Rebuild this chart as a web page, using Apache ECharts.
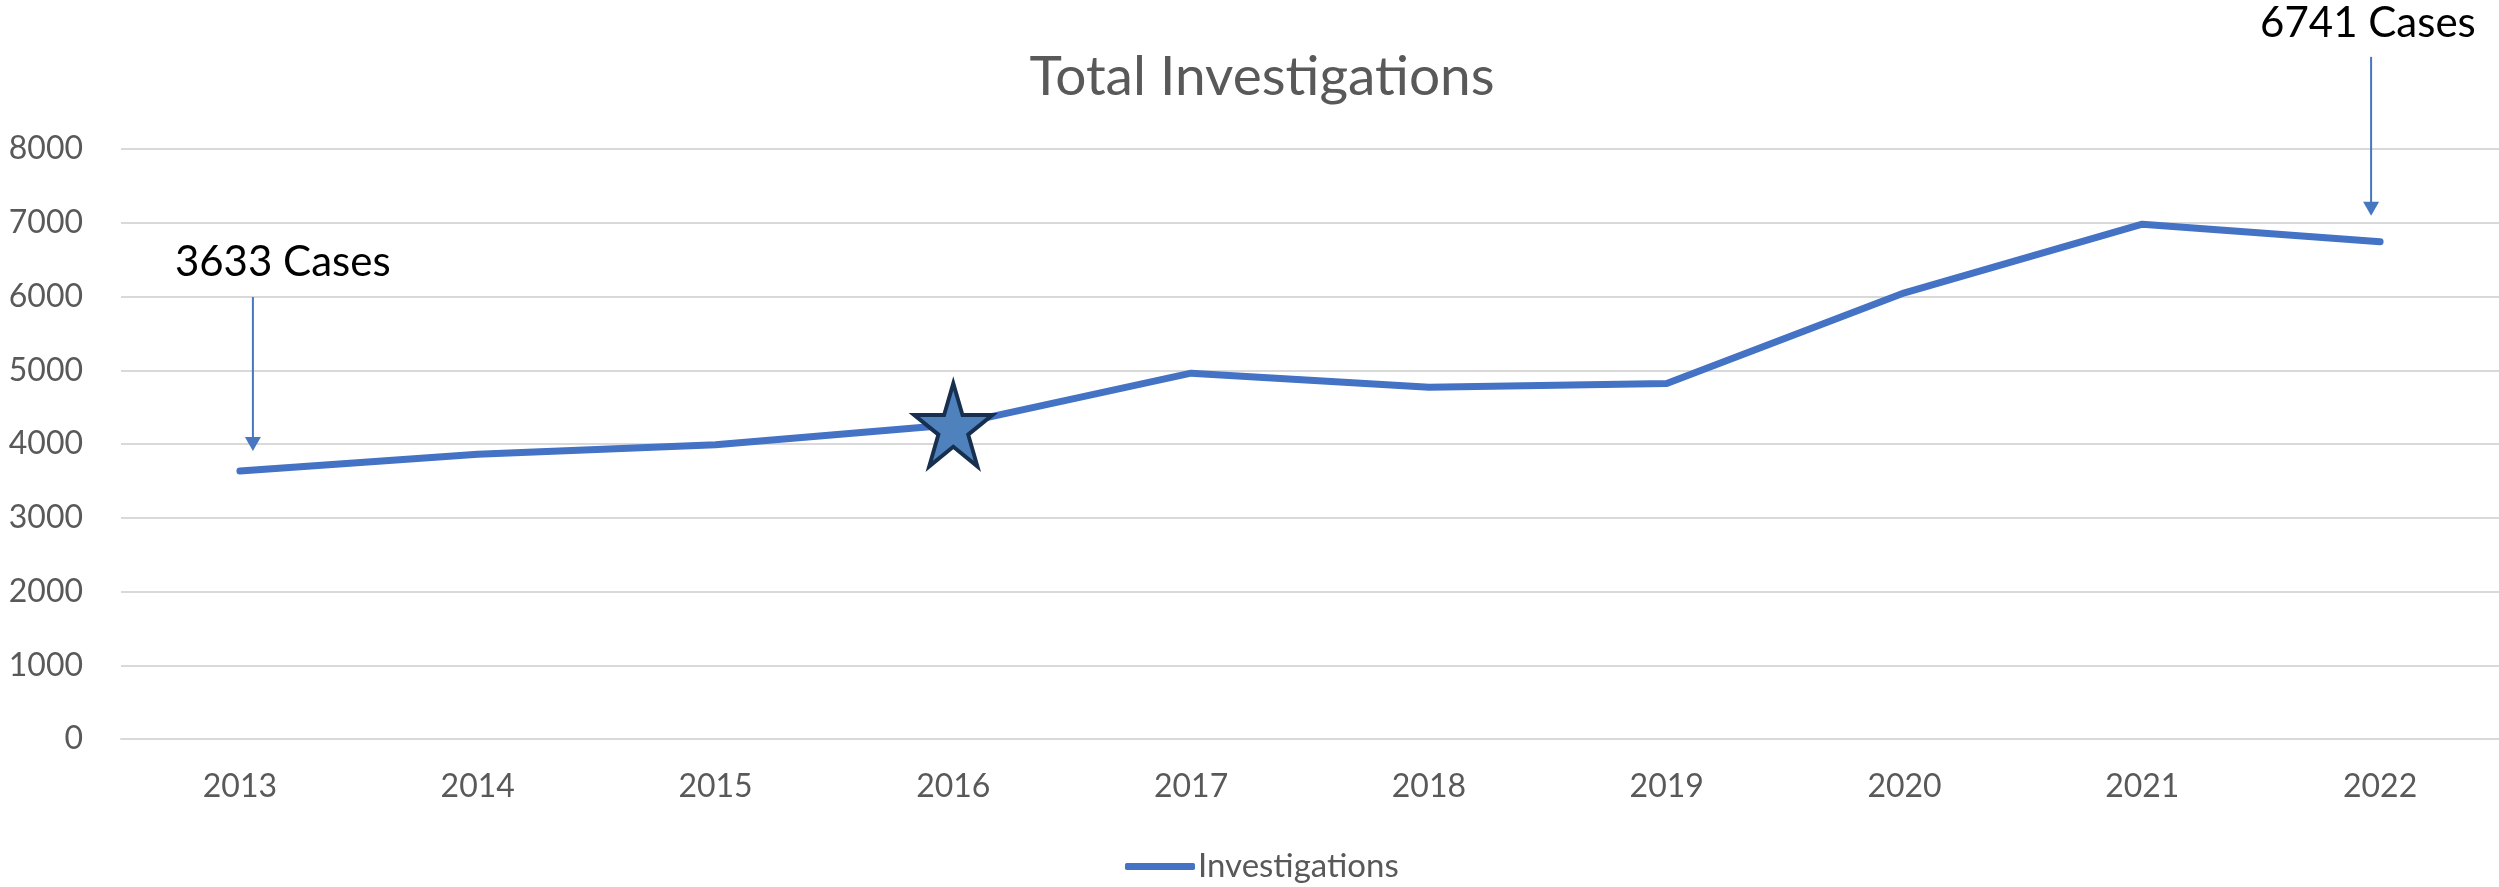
<!DOCTYPE html>
<html>
<head>
<meta charset="utf-8">
<title>Total Investigations</title>
<script src="https://cdn.jsdelivr.net/npm/echarts@6/dist/echarts.min.js"></script>
<style>
  html, body { margin: 0; padding: 0; background: #fff; }
  #chart { width: 2499px; height: 887px; }
</style>
</head>
<body>
<div id="chart"></div>
<script>
const years = ['2013', '2014', '2015', '2016', '2017', '2018', '2019', '2020', '2021', '2022']
const investigations = [3633, 3860, 3990, 4260, 4960, 4770, 4820, 6050, 6980, 6741]
const yTicks = [0, 1000, 2000, 3000, 4000, 5000, 6000, 7000, 8000]
// callouts: which year gets an arrow + "N Cases" text
const callouts = ['2013', '2022']
const starYear = '2016'

const FONT = 'Lato, "Open Sans", sans-serif'
const GREY = '#595959'
const BLUE = '#4472C4'

// 5 point star, 100x100 box
const STAR = 'path://M50,0 L61.23,34.55 L97.55,34.55 L68.17,55.9 L79.39,90.45 L50,69.1 L20.61,90.45 L31.83,55.9 L2.45,34.55 L38.77,34.55 Z'

const chart = echarts.init(document.getElementById('chart'))

chart.setOption({
  animation: false,
  backgroundColor: '#fff',
  title: {
    text: 'Total Investigations',
    left: 1257,
    top: 45,
    textAlign: 'center',
    textStyle: { fontFamily: FONT, fontSize: 55, fontWeight: 'normal', color: GREY }
  },
  legend: {
    data: ['Investigations'],
    orient: 'horizontal',
    left: 1120,
    top: 845,
    icon: 'roundRect',
    itemWidth: 70,
    itemHeight: 7,
    itemGap: 4,
    itemStyle: { color: BLUE },
    textStyle: { fontFamily: FONT, fontSize: 33, color: GREY, padding: [0, 0, 0, -2] }
  },
  grid: { left: 121, right: 0, top: 149, bottom: 148 },
  xAxis: {
    type: 'category',
    data: years,
    boundaryGap: true,
    axisLine: { lineStyle: { color: '#d9d9d9', width: 2 } },
    axisTick: { show: false },
    axisLabel: { fontFamily: FONT, fontSize: 32, color: GREY, margin: 32 }
  },
  yAxis: {
    type: 'value',
    min: yTicks[0],
    max: yTicks[yTicks.length - 1],
    interval: yTicks[1] - yTicks[0],
    axisLine: { show: false },
    axisTick: { show: false },
    axisLabel: { fontFamily: FONT, fontSize: 32, color: GREY, margin: 38, formatter: v => String(v) },
    splitLine: { lineStyle: { color: '#d9d9d9', width: 2 } }
  },
  series: [{
    name: 'Investigations',
    type: 'line',
    data: investigations,
    symbol: 'none',
    smooth: false,
    color: BLUE,
    lineStyle: { color: BLUE, width: 7, cap: 'round', join: 'round' },
    markPoint: {
      symbol: STAR,
      symbolSize: [78, 83],
      label: { show: false },
      itemStyle: { color: '#4F81BD', borderColor: '#17304F', borderWidth: 4 },
      data: [{ coord: [starYear, investigations[years.indexOf(starYear)]] }]
    }
  }]
})

// arrows + text callouts, anchored on the data points
const arrowSpec = {
  '2013': { dx: 13, top: -174, tip: -20, textX: -65, textY: -209 },
  '2022': { dx: -9, top: -185, tip: -26, textX: -120, textY: -218 }
}

const graphic = []
callouts.forEach(y => {
  const i = years.indexOf(y)
  const [px, py] = chart.convertToPixel({ seriesIndex: 0 }, [i, investigations[i]])
  const s = arrowSpec[y]
  const x = px + s.dx
  const tipY = py + s.tip
  graphic.push({
    type: 'line',
    shape: { x1: x, y1: py + s.top, x2: x, y2: tipY - 12 },
    style: { stroke: '#4677BF', lineWidth: 2 }
  })
  graphic.push({
    type: 'polygon',
    shape: { points: [[x - 8, tipY - 14], [x + 8, tipY - 14], [x, tipY]] },
    style: { fill: '#4677BF' }
  })
  graphic.push({
    type: 'text',
    left: px + s.textX,
    top: py + s.textY - 21,
    style: {
      text: investigations[i] + ' Cases',
      font: '42px ' + FONT,
      fill: '#000'
    }
  })
})

chart.setOption({ graphic })
</script>
</body>
</html>
